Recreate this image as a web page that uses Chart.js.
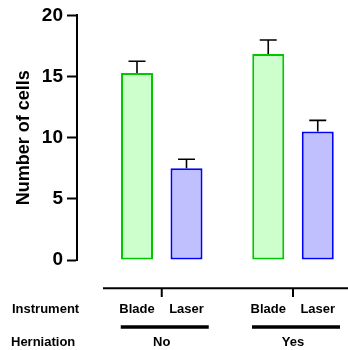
<!DOCTYPE html>
<html>
<head>
<meta charset="utf-8">
<script src="https://cdn.jsdelivr.net/npm/chart.js@4/dist/chart.umd.min.js"></script>
<style>
  html, body { margin: 0; padding: 0; background: #ffffff; }
  #wrap { position: relative; width: 348px; height: 350px; }
</style>
</head>
<body>
<div id="wrap"><canvas id="c" width="348" height="350"></canvas></div>
<script>
// ---- data ----
const groups = ["No", "Yes"];               // Herniation
const instruments = ["Blade", "Laser"];     // Instrument
const bladeValues = [15.3, 16.85];
const bladeErrors = [0.95, 1.14];
const laserValues = [7.5, 10.5];
const laserErrors = [0.74, 0.92];
const yTicks = [0, 5, 10, 15, 20];
const rowTitles = ["Instrument", "Herniation"];
const yTitle = "Number of cells";

const FONT = "'Liberation Sans', Arial, Helvetica, sans-serif";

const errorsBySet = [bladeErrors, laserErrors];
const valuesBySet = [bladeValues, laserValues];

const errorBarPlugin = {
  id: 'errorBars',
  afterDatasetsDraw(chart) {
    const ctx = chart.ctx;
    const y = chart.scales.y;
    ctx.save();
    ctx.strokeStyle = '#000';
    ctx.lineWidth = 1.6;
    chart.data.datasets.forEach((ds, di) => {
      const meta = chart.getDatasetMeta(di);
      meta.data.forEach((bar, i) => {
        const v = valuesBySet[di][i];
        const e = errorsBySet[di][i];
        const y0 = y.getPixelForValue(v);
        const y1 = y.getPixelForValue(v + e);
        ctx.beginPath();
        ctx.moveTo(bar.x, y0);
        ctx.lineTo(bar.x, y1);
        ctx.moveTo(bar.x - 8.5, y1);
        ctx.lineTo(bar.x + 8.5, y1);
        ctx.stroke();
      });
    });
    ctx.restore();
  }
};

const bottomLabelsPlugin = {
  id: 'bottomLabels',
  afterDraw(chart) {
    const ctx = chart.ctx;
    const x = chart.scales.x;
    ctx.save();
    ctx.fillStyle = '#000';
    ctx.strokeStyle = '#000';
    ctx.font = "bold 13px " + FONT;
    ctx.textBaseline = 'alphabetic';
    // row titles
    ctx.textAlign = 'left';
    ctx.fillText(rowTitles[0], 12, 312.5);
    ctx.fillText(rowTitles[1], 11, 346);
    // instrument bracket line
    ctx.lineWidth = 2;
    ctx.beginPath();
    ctx.moveTo(103, 288.3);
    ctx.lineTo(348, 288.3);
    ctx.stroke();
    groups.forEach((g, gi) => {
      const gx = x.getPixelForValue(gi);
      ctx.lineWidth = 2;
      ctx.beginPath();
      ctx.moveTo(gx, 288);
      ctx.lineTo(gx, 297);
      ctx.stroke();
      // instrument labels under each bar
      ctx.textAlign = 'center';
      chart.data.datasets.forEach((ds, di) => {
        const bar = chart.getDatasetMeta(di).data[gi];
        ctx.fillText(instruments[di], bar.x, 312.5);
      });
      // herniation thick line
      ctx.lineWidth = 3.5;
      ctx.beginPath();
      ctx.moveTo(gx - 41, 327);
      ctx.lineTo(gx + 47, 327);
      ctx.stroke();
      ctx.fillText(g, gx, 346);
    });
    ctx.restore();
  }
};

const datasets = [
  {
    label: instruments[0],
    data: bladeValues.map((v, i) => ({ x: i, y: v })),
    backgroundColor: '#ccffcc',
    borderColor: '#00c800',
    borderWidth: 2,
    borderSkipped: false
  },
  {
    label: instruments[1],
    data: laserValues.map((v, i) => ({ x: i, y: v })),
    backgroundColor: '#c0c0ff',
    borderColor: '#0000ff',
    borderWidth: 2,
    borderSkipped: false
  }
];

new Chart(document.getElementById('c'), {
  type: 'bar',
  data: { datasets },
  plugins: [errorBarPlugin, bottomLabelsPlugin],
  options: {
    responsive: false,
    animation: false,
    categoryPercentage: 0.7543,
    barPercentage: 0.6465,
    layout: { padding: { top: 14, right: 8, bottom: 90, left: 0 } },
    plugins: { legend: { display: false }, tooltip: { enabled: false } },
    scales: {
      x: {
        type: 'linear',
        display: false,
        offset: false,
        min: -0.6457,
        max: 1.3581,
        afterBuildTicks(scale) {
          scale.ticks = groups.map((g, i) => ({ value: i }));
        }
      },
      y: {
        min: 0,
        max: 20,
        afterBuildTicks(scale) {
          scale.ticks = yTicks.map(v => ({ value: v }));
        },
        afterFit(scale) { scale.width = 77; },
        ticks: {
          color: '#000',
          font: { family: FONT, size: 19, weight: 'bold' },
          padding: 4
        },
        grid: {
          display: true,
          drawOnChartArea: false,
          drawTicks: true,
          tickLength: 10,
          tickWidth: 2,
          tickColor: '#000'
        },
        border: { display: true, color: '#000', width: 2 },
        title: {
          display: true,
          text: yTitle,
          color: '#000',
          font: { family: FONT, size: 18, weight: 'bold' },
          padding: { top: 13, bottom: 0 }
        }
      }
    }
  }
});
</script>
</body>
</html>
